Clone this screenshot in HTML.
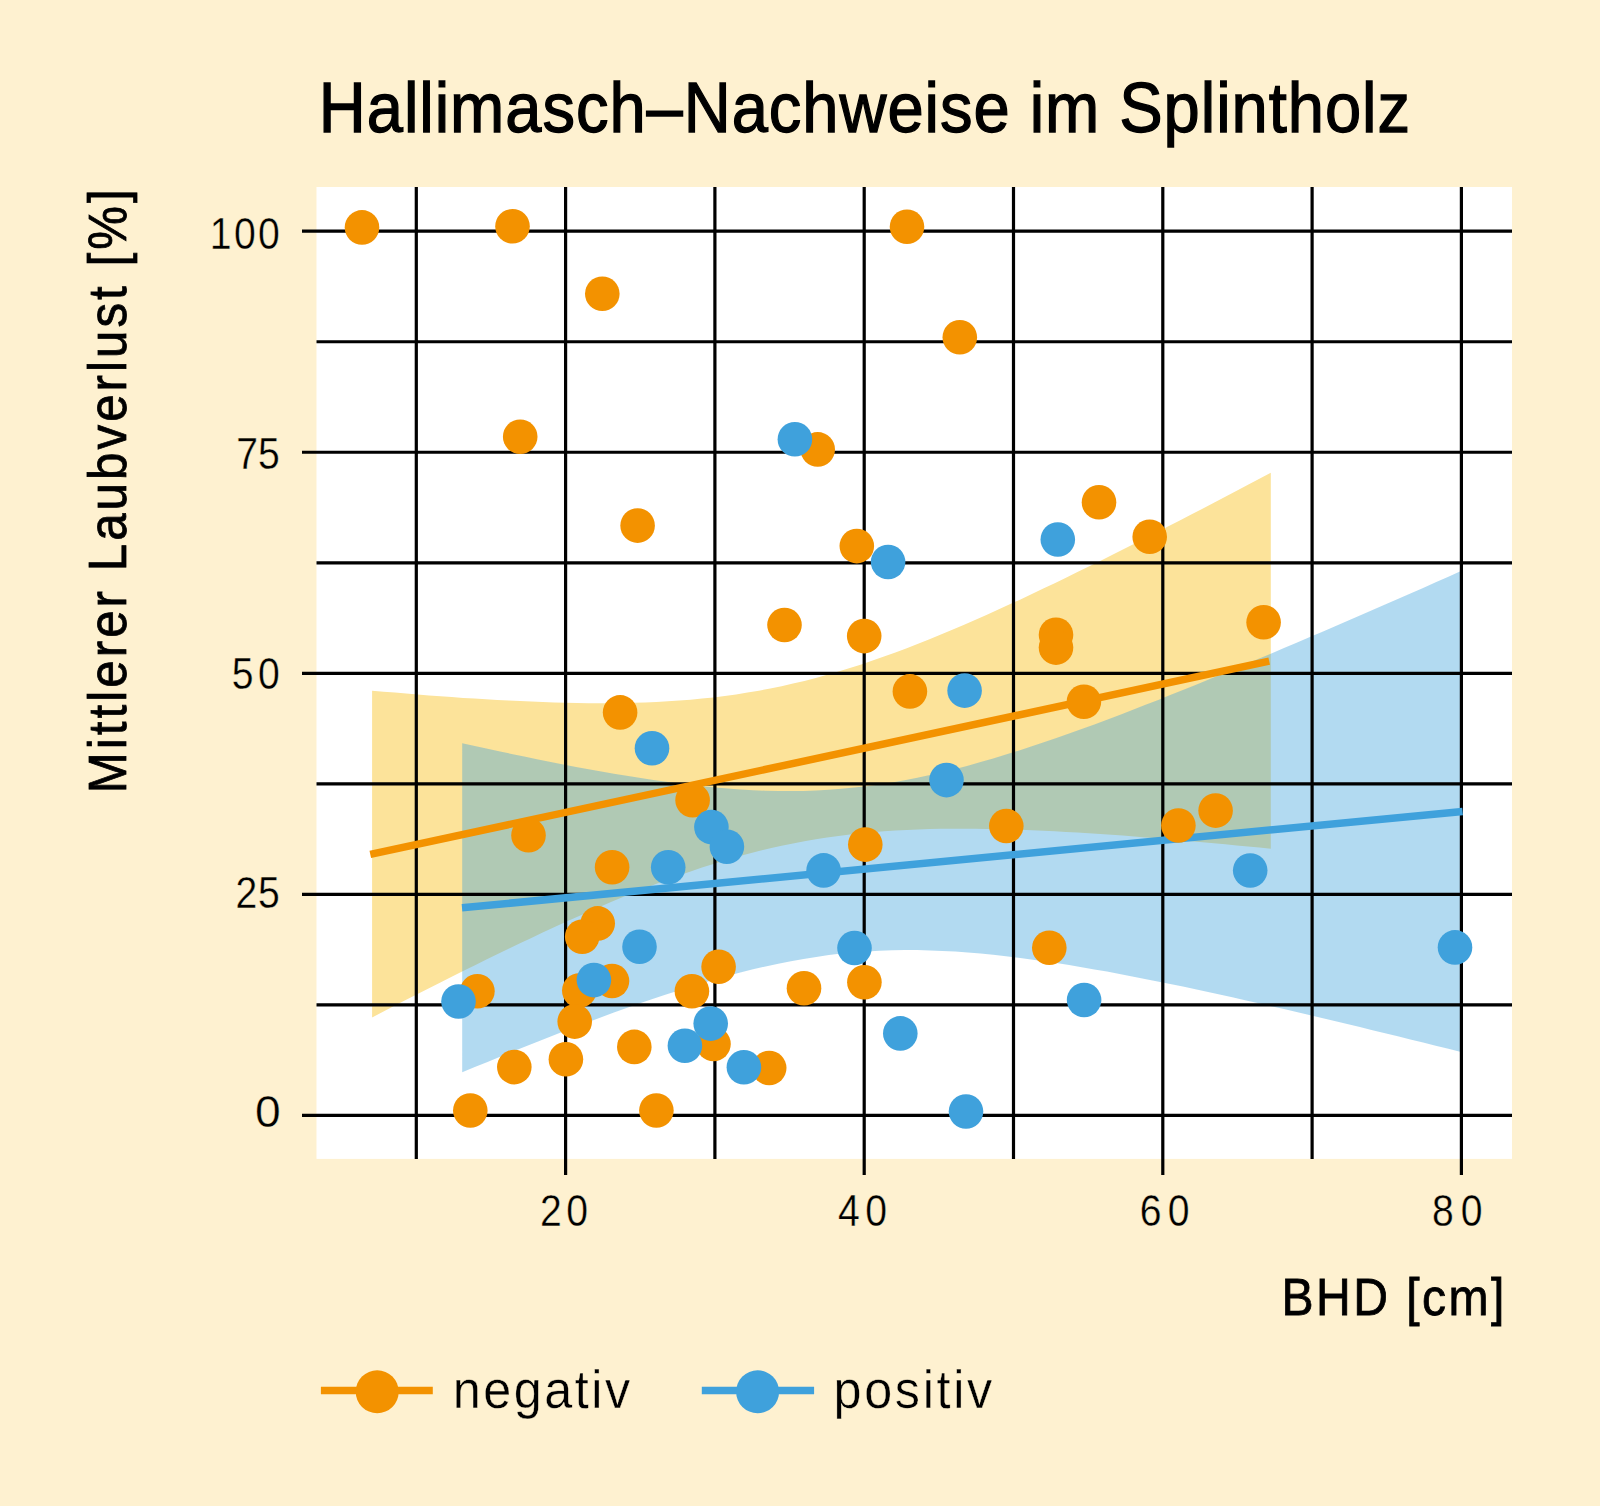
<!DOCTYPE html>
<html><head><meta charset="utf-8"><style>
html,body{margin:0;padding:0;background:#FEF1D0;}
svg{display:block;}
text{font-family:"Liberation Sans",sans-serif;fill:#000;}
</style></head><body>
<svg width="1600" height="1506" viewBox="0 0 1600 1506">
<rect x="0" y="0" width="1600" height="1506" fill="#FEF1D0"/>
<rect x="316.5" y="187" width="1195.5" height="971.9000000000001" fill="#ffffff"/>
<path d="M372.1,690.7 L383.5,691.7 L394.9,692.6 L406.2,693.6 L417.6,694.5 L429.0,695.4 L440.4,696.2 L451.7,697.1 L463.1,697.9 L474.5,698.6 L485.9,699.3 L497.2,700.0 L508.6,700.6 L520.0,701.1 L531.4,701.6 L542.7,702.1 L554.1,702.5 L565.5,702.8 L576.9,703.0 L588.2,703.2 L599.6,703.2 L611.0,703.2 L622.4,703.0 L633.7,702.8 L645.1,702.4 L656.5,702.0 L667.9,701.3 L679.3,700.6 L690.6,699.7 L702.0,698.6 L713.4,697.4 L724.8,696.0 L736.1,694.4 L747.5,692.6 L758.9,690.7 L770.3,688.5 L781.6,686.2 L793.0,683.6 L804.4,680.9 L815.8,678.0 L827.1,674.8 L838.5,671.5 L849.9,668.0 L861.3,664.4 L872.6,660.5 L884.0,656.6 L895.4,652.4 L906.8,648.2 L918.1,643.7 L929.5,639.2 L940.9,634.6 L952.3,629.8 L963.6,625.0 L975.0,620.0 L986.4,615.0 L997.8,609.8 L1009.2,604.6 L1020.5,599.4 L1031.9,594.0 L1043.3,588.6 L1054.7,583.2 L1066.0,577.7 L1077.4,572.1 L1088.8,566.5 L1100.2,560.9 L1111.5,555.2 L1122.9,549.5 L1134.3,543.7 L1145.7,538.0 L1157.0,532.2 L1168.4,526.3 L1179.8,520.5 L1191.2,514.6 L1202.5,508.7 L1213.9,502.7 L1225.3,496.8 L1236.7,490.8 L1248.0,484.8 L1259.4,478.8 L1270.8,472.8 L1270.8,848.7 L1259.4,847.6 L1248.0,846.5 L1236.7,845.4 L1225.3,844.3 L1213.9,843.3 L1202.5,842.2 L1191.2,841.2 L1179.8,840.2 L1168.4,839.2 L1157.0,838.3 L1145.7,837.4 L1134.3,836.5 L1122.9,835.6 L1111.5,834.8 L1100.2,834.0 L1088.8,833.3 L1077.4,832.6 L1066.0,831.9 L1054.7,831.3 L1043.3,830.7 L1031.9,830.2 L1020.5,829.8 L1009.2,829.4 L997.8,829.1 L986.4,828.9 L975.0,828.7 L963.6,828.7 L952.3,828.7 L940.9,828.8 L929.5,829.1 L918.1,829.4 L906.8,829.9 L895.4,830.5 L884.0,831.3 L872.6,832.2 L861.3,833.3 L849.9,834.5 L838.5,835.9 L827.1,837.5 L815.8,839.3 L804.4,841.2 L793.0,843.4 L781.6,845.7 L770.3,848.3 L758.9,851.0 L747.5,853.9 L736.1,857.1 L724.8,860.4 L713.4,863.9 L702.0,867.5 L690.6,871.4 L679.3,875.3 L667.9,879.5 L656.5,883.8 L645.1,888.2 L633.7,892.7 L622.4,897.3 L611.0,902.1 L599.6,907.0 L588.2,911.9 L576.9,917.0 L565.5,922.1 L554.1,927.3 L542.7,932.6 L531.4,937.9 L520.0,943.3 L508.6,948.7 L497.2,954.2 L485.9,959.8 L474.5,965.4 L463.1,971.0 L451.7,976.7 L440.4,982.4 L429.0,988.2 L417.6,994.0 L406.2,999.8 L394.9,1005.6 L383.5,1011.5 L372.1,1017.4 Z" fill="#FCE39A"/>
<path d="M462.2,743.2 L474.8,746.0 L487.5,748.8 L500.1,751.5 L512.8,754.2 L525.4,756.8 L538.1,759.4 L550.7,762.0 L563.3,764.5 L576.0,766.9 L588.6,769.2 L601.3,771.5 L613.9,773.7 L626.6,775.8 L639.2,777.8 L651.8,779.8 L664.5,781.6 L677.1,783.3 L689.8,784.8 L702.4,786.2 L715.1,787.5 L727.7,788.6 L740.3,789.5 L753.0,790.2 L765.6,790.7 L778.3,791.0 L790.9,791.0 L803.6,790.9 L816.2,790.4 L828.8,789.8 L841.5,788.8 L854.1,787.6 L866.8,786.2 L879.4,784.4 L892.1,782.4 L904.7,780.2 L917.3,777.7 L930.0,775.0 L942.6,772.1 L955.3,769.0 L967.9,765.7 L980.6,762.1 L993.2,758.5 L1005.9,754.6 L1018.5,750.7 L1031.1,746.6 L1043.8,742.3 L1056.4,738.0 L1069.1,733.5 L1081.7,729.0 L1094.4,724.4 L1107.0,719.7 L1119.6,714.9 L1132.3,710.0 L1144.9,705.1 L1157.6,700.2 L1170.2,695.1 L1182.9,690.1 L1195.5,684.9 L1208.1,679.8 L1220.8,674.6 L1233.4,669.4 L1246.1,664.1 L1258.7,658.8 L1271.4,653.5 L1284.0,648.1 L1296.6,642.7 L1309.3,637.3 L1321.9,631.9 L1334.6,626.5 L1347.2,621.0 L1359.9,615.5 L1372.5,610.0 L1385.1,604.5 L1397.8,599.0 L1410.4,593.4 L1423.1,587.9 L1435.7,582.3 L1448.4,576.7 L1461.0,571.1 L1461.0,1052.0 L1448.4,1048.8 L1435.7,1045.7 L1423.1,1042.6 L1410.4,1039.4 L1397.8,1036.3 L1385.1,1033.2 L1372.5,1030.2 L1359.9,1027.1 L1347.2,1024.0 L1334.6,1021.0 L1321.9,1018.0 L1309.3,1015.0 L1296.6,1012.0 L1284.0,1009.1 L1271.4,1006.2 L1258.7,1003.3 L1246.1,1000.4 L1233.4,997.6 L1220.8,994.8 L1208.1,992.0 L1195.5,989.3 L1182.9,986.6 L1170.2,984.0 L1157.6,981.4 L1144.9,978.9 L1132.3,976.4 L1119.6,974.0 L1107.0,971.6 L1094.4,969.4 L1081.7,967.2 L1069.1,965.1 L1056.4,963.1 L1043.8,961.2 L1031.1,959.4 L1018.5,957.7 L1005.9,956.2 L993.2,954.8 L980.6,953.5 L967.9,952.5 L955.3,951.6 L942.6,950.9 L930.0,950.4 L917.3,950.1 L904.7,950.1 L892.1,950.3 L879.4,950.7 L866.8,951.4 L854.1,952.4 L841.5,953.6 L828.8,955.1 L816.2,956.9 L803.6,958.9 L790.9,961.2 L778.3,963.7 L765.6,966.4 L753.0,969.3 L740.3,972.5 L727.7,975.8 L715.1,979.4 L702.4,983.1 L689.8,986.9 L677.1,990.9 L664.5,995.0 L651.8,999.3 L639.2,1003.6 L626.6,1008.1 L613.9,1012.6 L601.3,1017.3 L588.6,1022.0 L576.0,1026.8 L563.3,1031.6 L550.7,1036.5 L538.1,1041.5 L525.4,1046.5 L512.8,1051.6 L500.1,1056.7 L487.5,1061.9 L474.8,1067.1 L462.2,1072.3 Z" fill="#3FA2DD" fill-opacity="0.4"/>
<path d="M416.30,187 V1158.9 M565.60,187 V1175 M714.90,187 V1158.9 M864.20,187 V1175 M1013.50,187 V1158.9 M1162.80,187 V1175 M1312.10,187 V1158.9 M1461.40,187 V1175 M302,1115.40 H1512 M316.5,1004.88 H1512 M302,894.35 H1512 M316.5,783.83 H1512 M302,673.30 H1512 M316.5,562.78 H1512 M302,452.25 H1512 M316.5,341.73 H1512 M302,231.20 H1512" stroke="#000" stroke-width="3.2" fill="none"/>
<line x1="370.3" y1="854.4" x2="1269.2" y2="661.1" stroke="#F39200" stroke-width="7.5"/>
<line x1="462" y1="907.8" x2="1462.6" y2="811.4" stroke="#3FA1DC" stroke-width="7.5"/>
<circle cx="362" cy="227.4" r="17.3" fill="#F39200"/>
<circle cx="512.5" cy="226.3" r="17.3" fill="#F39200"/>
<circle cx="602.3" cy="293.8" r="17.3" fill="#F39200"/>
<circle cx="520.2" cy="436.7" r="17.3" fill="#F39200"/>
<circle cx="637.6" cy="525.6" r="17.3" fill="#F39200"/>
<circle cx="907" cy="226.8" r="17.3" fill="#F39200"/>
<circle cx="959.8" cy="337.3" r="17.3" fill="#F39200"/>
<circle cx="817.7" cy="449.4" r="17.3" fill="#F39200"/>
<circle cx="856.8" cy="546.1" r="17.3" fill="#F39200"/>
<circle cx="1099" cy="502.3" r="17.3" fill="#F39200"/>
<circle cx="1149.7" cy="536.8" r="17.3" fill="#F39200"/>
<circle cx="784.5" cy="625" r="17.3" fill="#F39200"/>
<circle cx="864.2" cy="636.1" r="17.3" fill="#F39200"/>
<circle cx="1056" cy="634.8" r="17.3" fill="#F39200"/>
<circle cx="1056" cy="647.6" r="17.3" fill="#F39200"/>
<circle cx="909.9" cy="691.4" r="17.3" fill="#F39200"/>
<circle cx="1083.9" cy="701.7" r="17.3" fill="#F39200"/>
<circle cx="1263.6" cy="622.3" r="17.3" fill="#F39200"/>
<circle cx="620.1" cy="712.4" r="17.3" fill="#F39200"/>
<circle cx="692.6" cy="800.2" r="17.3" fill="#F39200"/>
<circle cx="528.5" cy="835.3" r="17.3" fill="#F39200"/>
<circle cx="612.1" cy="867.2" r="17.3" fill="#F39200"/>
<circle cx="1006.3" cy="826" r="17.3" fill="#F39200"/>
<circle cx="865.3" cy="844.6" r="17.3" fill="#F39200"/>
<circle cx="1178.4" cy="825.5" r="17.3" fill="#F39200"/>
<circle cx="1215.6" cy="810.6" r="17.3" fill="#F39200"/>
<circle cx="597.7" cy="923.4" r="17.3" fill="#F39200"/>
<circle cx="582.2" cy="936.7" r="17.3" fill="#F39200"/>
<circle cx="477.4" cy="991.2" r="17.3" fill="#F39200"/>
<circle cx="612" cy="981" r="17.3" fill="#F39200"/>
<circle cx="579.3" cy="990.6" r="17.3" fill="#F39200"/>
<circle cx="574.7" cy="1021.6" r="17.3" fill="#F39200"/>
<circle cx="691.9" cy="991.2" r="17.3" fill="#F39200"/>
<circle cx="718.6" cy="966.8" r="17.3" fill="#F39200"/>
<circle cx="713.5" cy="1044" r="17.3" fill="#F39200"/>
<circle cx="634.3" cy="1046.9" r="17.3" fill="#F39200"/>
<circle cx="514.3" cy="1067.1" r="17.3" fill="#F39200"/>
<circle cx="565.9" cy="1059.3" r="17.3" fill="#F39200"/>
<circle cx="470.3" cy="1110.5" r="17.3" fill="#F39200"/>
<circle cx="656.4" cy="1110.5" r="17.3" fill="#F39200"/>
<circle cx="769.2" cy="1068" r="17.3" fill="#F39200"/>
<circle cx="804" cy="988.2" r="17.3" fill="#F39200"/>
<circle cx="864.4" cy="982.2" r="17.3" fill="#F39200"/>
<circle cx="1049.3" cy="947.8" r="17.3" fill="#F39200"/>
<circle cx="794.9" cy="439.3" r="17.3" fill="#3FA1DC"/>
<circle cx="888.1" cy="562" r="17.3" fill="#3FA1DC"/>
<circle cx="1057.8" cy="539.5" r="17.3" fill="#3FA1DC"/>
<circle cx="652" cy="748.2" r="17.3" fill="#3FA1DC"/>
<circle cx="964.6" cy="690.6" r="17.3" fill="#3FA1DC"/>
<circle cx="946.5" cy="780.1" r="17.3" fill="#3FA1DC"/>
<circle cx="711.4" cy="827.1" r="17.3" fill="#3FA1DC"/>
<circle cx="726.9" cy="846.7" r="17.3" fill="#3FA1DC"/>
<circle cx="668.2" cy="867.3" r="17.3" fill="#3FA1DC"/>
<circle cx="823.6" cy="870.4" r="17.3" fill="#3FA1DC"/>
<circle cx="639.5" cy="946.8" r="17.3" fill="#3FA1DC"/>
<circle cx="458.5" cy="1001.5" r="17.3" fill="#3FA1DC"/>
<circle cx="593.9" cy="980.1" r="17.3" fill="#3FA1DC"/>
<circle cx="684.9" cy="1045.7" r="17.3" fill="#3FA1DC"/>
<circle cx="710.7" cy="1023.6" r="17.3" fill="#3FA1DC"/>
<circle cx="743.9" cy="1067.2" r="17.3" fill="#3FA1DC"/>
<circle cx="854.5" cy="948" r="17.3" fill="#3FA1DC"/>
<circle cx="900.3" cy="1033.4" r="17.3" fill="#3FA1DC"/>
<circle cx="966" cy="1111.5" r="17.3" fill="#3FA1DC"/>
<circle cx="1084.1" cy="1000" r="17.3" fill="#3FA1DC"/>
<circle cx="1250.2" cy="870.5" r="17.3" fill="#3FA1DC"/>
<circle cx="1455" cy="947.4" r="17.3" fill="#3FA1DC"/>
<text x="346.52" y="132.5" font-size="70.8" font-weight="normal" text-anchor="start" textLength="1186.10" lengthAdjust="spacing" stroke="#000" stroke-width="1.3" transform="scale(0.92,1)">Hallimasch–Nachweise im Splintholz</text>
<text x="310.89" y="249.5" font-size="43.5" font-weight="normal" text-anchor="end" textLength="77.78" lengthAdjust="spacing" stroke="#FEF1D0" stroke-width="0.35" transform="scale(0.9,1)">100</text>
<text x="310.89" y="469.1" font-size="43.5" font-weight="normal" text-anchor="end" textLength="48.48" lengthAdjust="spacing" stroke="#FEF1D0" stroke-width="0.35" transform="scale(0.9,1)">75</text>
<text x="310.89" y="688.75" font-size="43.5" font-weight="normal" text-anchor="end" textLength="53.30" lengthAdjust="spacing" stroke="#FEF1D0" stroke-width="0.35" transform="scale(0.9,1)">50</text>
<text x="310.89" y="908.0" font-size="43.5" font-weight="normal" text-anchor="end" textLength="49.27" lengthAdjust="spacing" stroke="#FEF1D0" stroke-width="0.35" transform="scale(0.9,1)">25</text>
<text x="280.80" y="1127.25" font-size="43.5" font-weight="normal" text-anchor="end" textLength="25.69" lengthAdjust="spacingAndGlyphs" stroke="#FEF1D0" stroke-width="0.35">0</text>
<text x="626.78" y="1226.4" font-size="43.5" font-weight="normal" text-anchor="middle" textLength="53.38" lengthAdjust="spacing" stroke="#FEF1D0" stroke-width="0.35" transform="scale(0.9,1)">20</text>
<text x="958.36" y="1226.4" font-size="43.5" font-weight="normal" text-anchor="middle" textLength="54.23" lengthAdjust="spacing" stroke="#FEF1D0" stroke-width="0.35" transform="scale(0.9,1)">40</text>
<text x="1294.06" y="1226.4" font-size="43.5" font-weight="normal" text-anchor="middle" textLength="55.20" lengthAdjust="spacing" stroke="#FEF1D0" stroke-width="0.35" transform="scale(0.9,1)">60</text>
<text x="1619.11" y="1226.4" font-size="43.5" font-weight="normal" text-anchor="middle" textLength="56.26" lengthAdjust="spacing" stroke="#FEF1D0" stroke-width="0.35" transform="scale(0.9,1)">80</text>
<text x="1393.04" y="1315.5" font-size="52.3" font-weight="normal" text-anchor="start" textLength="242.26" lengthAdjust="spacing" stroke="#000" stroke-width="0.8" transform="scale(0.92,1)">BHD [cm]</text>
<text x="476.63" y="1408" font-size="53" font-weight="normal" text-anchor="start" textLength="186.71" lengthAdjust="spacing" stroke="#FEF1D0" stroke-width="0.4" transform="scale(0.95,1)">negativ</text>
<text x="877.37" y="1408" font-size="53" font-weight="normal" text-anchor="start" textLength="167.02" lengthAdjust="spacing" stroke="#FEF1D0" stroke-width="0.4" transform="scale(0.95,1)">positiv</text>
<text x="-862.17" y="126.4" font-size="53.5" font-weight="normal" text-anchor="start" textLength="656.46" lengthAdjust="spacing" stroke="#000" stroke-width="0.8" transform="rotate(-90) scale(0.92,1)">Mittlerer Laubverlust [%]</text>
<line x1="320.9" y1="1390.5" x2="432.8" y2="1390.5" stroke="#F39200" stroke-width="7.4"/>
<circle cx="377.2" cy="1391.75" r="21.5" fill="#F39200"/>
<line x1="701.8" y1="1390.5" x2="814.1" y2="1390.5" stroke="#3FA1DC" stroke-width="7.4"/>
<circle cx="757.6" cy="1391.75" r="21.5" fill="#3FA1DC"/>
</svg>
</body></html>
